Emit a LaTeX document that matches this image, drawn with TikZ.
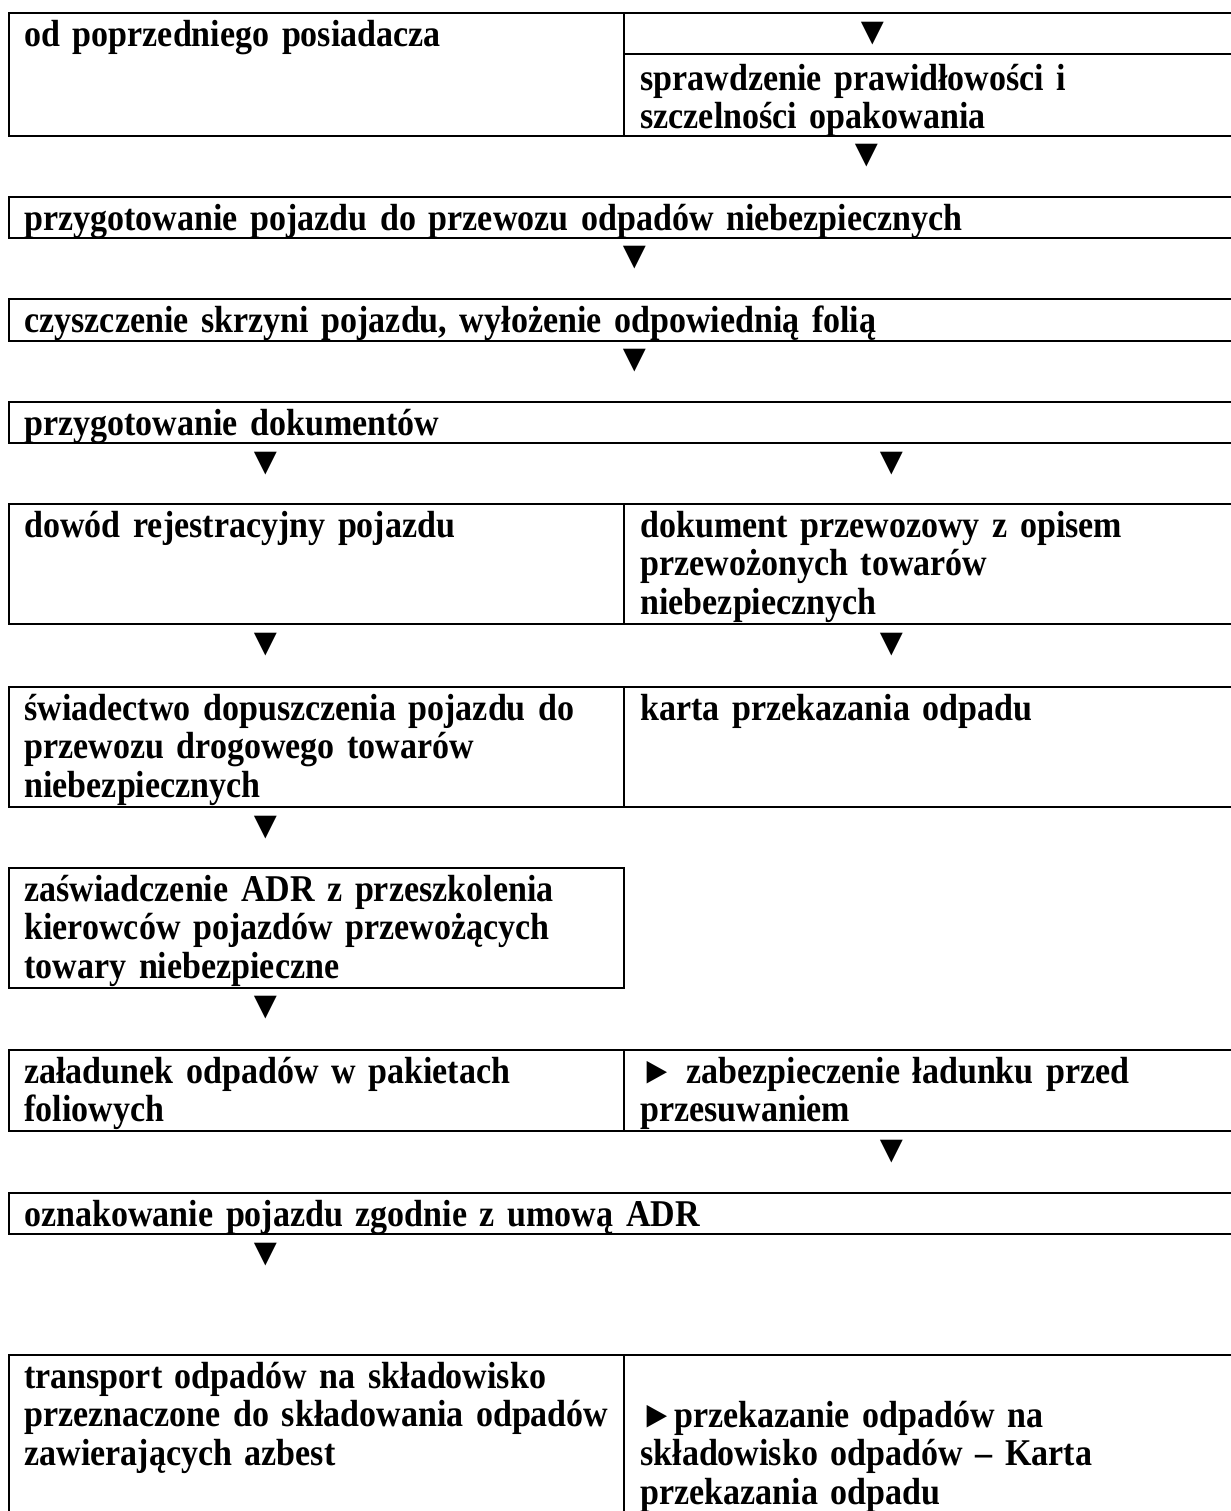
\documentclass[tikz,border=0pt]{standalone}
\usepackage{fontspec}
\setmainfont{Liberation Serif}[FakeStretch=0.9]
\newfontfamily\arrfont{Liberation Serif}
\begin{document}
\begin{tikzpicture}[x=0.5pt,y=-0.5pt]
                \tikzset{frame/.style = {line width=1.4pt}}
                \tikzset{txt/.style = {anchor=base west, inner sep=0pt, text width=580pt, align=left, font=\bfseries\fontsize{18.9}{19.25}\selectfont}}
                \tikzset{arr/.style = {inner sep=0pt, font=\arrfont\fontsize{19.5}{19.5}\selectfont}}
                \useasboundingbox (0,0) rectangle (1231,1511);
                % boxes
                \draw[frame] (1231,13) -- (9,13) -- (9,136) -- (1231,136);
                \draw[frame] (624,13) -- (624,136);
                \draw[frame] (624,54) -- (1231,54);
                \draw[frame] (1231,197) -- (9,197) -- (9,238) -- (1231,238);
                \draw[frame] (1231,299) -- (9,299) -- (9,341) -- (1231,341);
                \draw[frame] (1231,402) -- (9,402) -- (9,443) -- (1231,443);
                \draw[frame] (1231,504) -- (9,504) -- (9,624) -- (1231,624);
                \draw[frame] (624,504) -- (624,624);
                \draw[frame] (1231,687) -- (9,687) -- (9,807) -- (1231,807);
                \draw[frame] (624,687) -- (624,807);
                \draw[frame] (9,868) rectangle (624,988);
                \draw[frame] (1231,1050) -- (9,1050) -- (9,1131) -- (1231,1131);
                \draw[frame] (624,1050) -- (624,1131);
                \draw[frame] (1231,1193) -- (9,1193) -- (9,1234) -- (1231,1234);
                \draw[frame] (1231,1355) -- (9,1355) -- (9,1520);
                \draw[frame] (624,1355) -- (624,1520);
                % texts
                \node[txt] (s1) at (24,46) {od poprzedniego posiadacza};
                \node[txt] (s1r) at (640,90) {sprawdzenie prawidłowości i\\szczelności opakowania};
                \node[txt] (s2) at (24,230) {przygotowanie pojazdu do przewozu odpadów niebezpiecznych};
                \node[txt] (s3) at (24,332) {czyszczenie skrzyni pojazdu, wyłożenie odpowiednią folią};
                \node[txt] (s4) at (24,435) {przygotowanie dokumentów};
                \node[txt] (s5) at (24,537) {dowód rejestracyjny pojazdu};
                \node[txt] (s5r) at (640,537) {dokument przewozowy z opisem\\przewożonych towarów\\niebezpiecznych};
                \node[txt] (s6) at (24,720) {świadectwo dopuszczenia pojazdu do\\przewozu drogowego towarów\\niebezpiecznych};
                \node[txt] (s6r) at (640,720) {karta przekazania odpadu};
                \node[txt] (s7) at (24,901) {zaświadczenie ADR z przeszkolenia\\kierowców pojazdów przewożących\\towary niebezpieczne};
                \node[txt] (s8) at (24,1083) {załadunek odpadów w pakietach\\foliowych};
                \node[txt] (s8r) at (640,1083) {► zabezpieczenie ładunku przed\\przesuwaniem};
                \node[txt] (s9) at (24,1226) {oznakowanie pojazdu zgodnie z umową ADR};
                \node[txt] (s10) at (24,1388) {transport odpadów na składowisko\\przeznaczone do składowania odpadów\\zawierających azbest};
                \node[txt] (s10r) at (640,1427) {►przekazanie odpadów na\\składowisko odpadów – Karta\\przekazania odpadu};
                % arrows
                \node[arr] (t1) at (872.5,34) {▼};
                \node[arr] (t2) at (867,156) {▼};
                \node[arr] (t3) at (634.5,258) {▼};
                \node[arr] (t4) at (634.5,360.5) {▼};
                \node[arr] (t5a) at (265.6,463.5) {▼};
                \node[arr] (t5b) at (892,463.5) {▼};
                \node[arr] (t6a) at (265.6,644.5) {▼};
                \node[arr] (t6b) at (892,644.5) {▼};
                \node[arr] (t7) at (265.6,827.5) {▼};
                \node[arr] (t8) at (265.6,1007.5) {▼};
                \node[arr] (t9) at (892,1151.5) {▼};
                \node[arr] (t10) at (265.6,1254.5) {▼};
            \end{tikzpicture}
\end{document}
